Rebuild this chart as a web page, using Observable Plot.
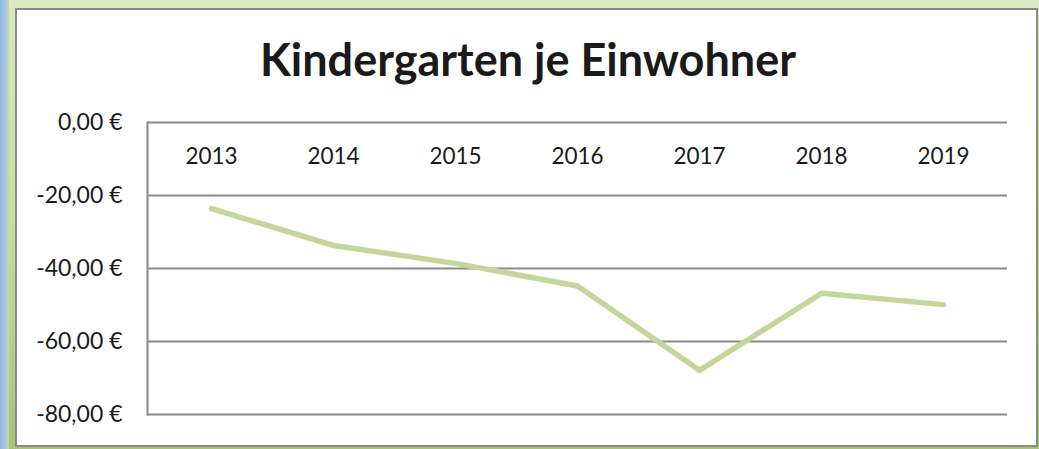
<!DOCTYPE html>
<html><head><meta charset="utf-8">
<script src="https://cdn.jsdelivr.net/npm/d3@7"></script>
<script src="https://cdn.jsdelivr.net/npm/@observablehq/plot@0.6"></script>
<style>
html,body{margin:0;padding:0;}
body{width:1039px;height:449px;position:relative;overflow:hidden;
 background:linear-gradient(to bottom,#dbe8c0 0%,#c9dc9e 50%,#a9c276 100%);}
#leftstrip{position:absolute;left:0;top:0;width:9px;height:449px;
 background:linear-gradient(to right,#8fb4e3 0%,#a9c8e0 60%,#c5dba0 100%);}
#panel{position:absolute;left:15px;top:8px;width:1019px;height:435px;background:#fff;
 border:2px solid #8a8a8a;box-sizing:content-box;}
#title{position:absolute;left:0;top:32px;width:1056px;text-align:center;line-height:54px;
 font-family:Lato,sans-serif;font-weight:bold;font-size:45px;color:#1a1a1a;}
#chart{position:absolute;left:0;top:0;}
</style></head>
<body>
<div id="leftstrip"></div>
<div id="panel"></div>
<div id="title">Kindergarten je Einwohner</div>
<div id="chart"></div>
<script>
const years = ["2013","2014","2015","2016","2017","2018","2019"];
const values = [-23.6, -33.7, -38.6, -44.8, -67.9, -46.8, -49.9];
const yTicks = [0, -20, -40, -60, -80];

const data = years.map((y, i) => ({year: y, value: values[i]}));
const fmt = d => d.toFixed(2).replace(".", ",").replace("-0,00", "0,00") + " €";

const chart = Plot.plot({
  width: 1039,
  height: 449,
  marginLeft: 147,
  marginRight: 32,
  marginTop: 122,
  marginBottom: 35,
  style: {fontFamily: "Lato, sans-serif", fontSize: "22px", color: "#1a1a1a", background: "transparent"},
  x: {type: "band", domain: years, padding: 0, label: null},
  y: {domain: [-80, 0], label: null},
  marks: [
    Plot.gridY(yTicks, {stroke: "#8a8a8a", strokeOpacity: 1, strokeWidth: 2}),
    Plot.frame({anchor: "left", stroke: "#8a8a8a", strokeWidth: 2}),
    Plot.axisY(yTicks, {tickSize: 0, tickPadding: 25, tickFormat: fmt, fontSize: 23, fill: "#1a1a1a", label: null}),
    Plot.axisX({anchor: "top", tickSize: 0, tickPadding: -41, fontSize: 22.5, fill: "#1a1a1a", label: null}),
    Plot.line(data, {x: "year", y: "value", stroke: "#c4d79b", strokeWidth: 5.5, strokeLinecap: "round", strokeLinejoin: "round"})
  ]
});
document.getElementById("chart").appendChild(chart);
</script>
</body></html>
